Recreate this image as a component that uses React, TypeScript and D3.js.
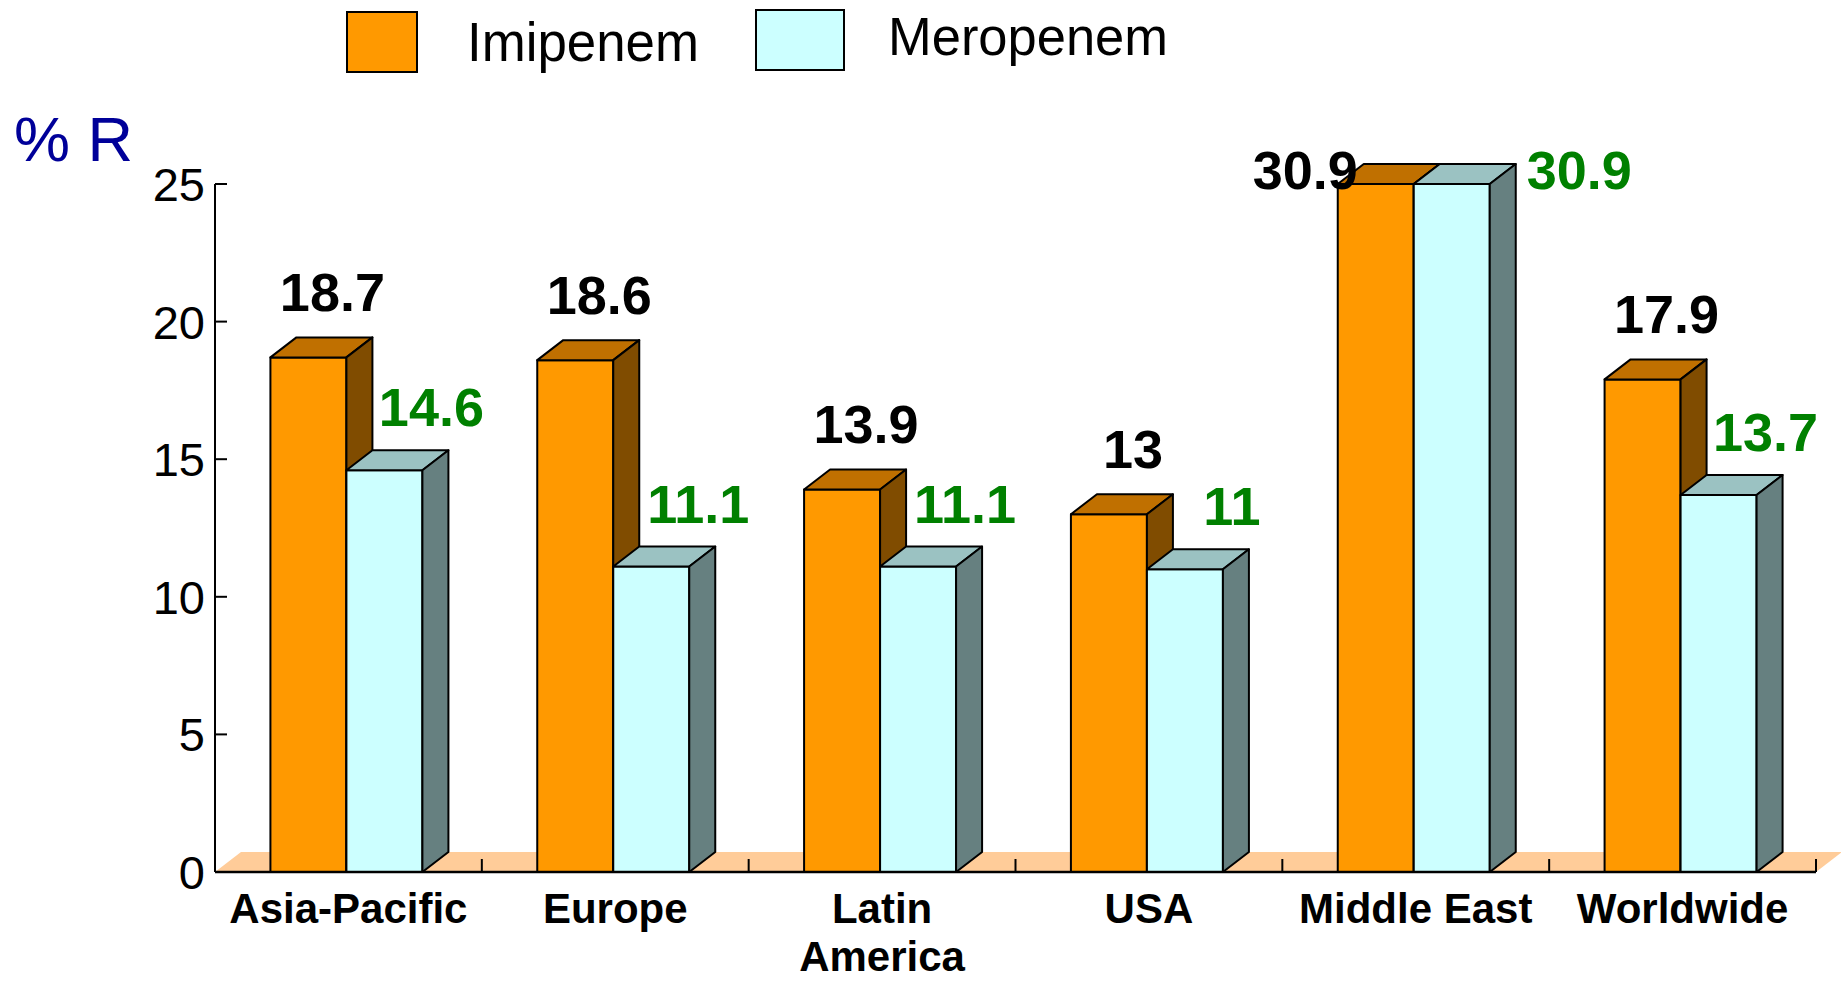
import React from 'react';
import * as d3 from 'd3';

// Carbapenem resistance (% R) by region
const regions = ['Asia-Pacific', 'Europe', 'Latin America', 'USA', 'Middle East', 'Worldwide'];
const imipenem = [18.7, 18.6, 13.9, 13.0, 30.9, 17.9];
const meropenem = [14.6, 11.1, 11.1, 11.0, 30.9, 13.7];
const seriesNames = ['Imipenem', 'Meropenem'];
const yTicks = [0, 5, 10, 15, 20, 25];
const yMax = 25;

const W = 1841;
const H = 982;
const FONT = '"Liberation Sans", Arial, Helvetica, sans-serif';

// oblique depth of the 3-D bars and floor
const DX = 26;
const DY = -20;
const BAR_W = 76;

const FRONT = ['#FF9900', '#CCFFFF'];
const TOP = ['#C07000', '#9BC2C2'];
const SIDE = ['#804C00', '#668080'];
const FLOOR = '#FFCC99';
const LABEL = ['#000000', '#008000'];

let measureCtx: CanvasRenderingContext2D | null = null;
function textWidth(s: string, font: string): number {
  if (!measureCtx) measureCtx = document.createElement('canvas').getContext('2d');
  if (!measureCtx) return s.length * 20;
  measureCtx.font = font;
  return measureCtx.measureText(s).width;
}

// wrap a category name into lines that fit the band
function wrap(s: string, maxW: number, font: string): string[] {
  if (textWidth(s, font) <= maxW) return [s];
  const words = s.split(' ');
  const lines: string[] = [];
  let cur = '';
  for (const w of words) {
    const t = cur ? cur + ' ' + w : w;
    if (cur && textWidth(t, font) > maxW) {
      lines.push(cur);
      cur = w;
    } else cur = t;
  }
  if (cur) lines.push(cur);
  return lines;
}

const fmt = (v: number) => String(+v.toFixed(1));

export default function App() {
  const x = d3.scaleBand<string>().domain(regions).range([215, 1816]).padding(0);
  const y = d3.scaleLinear().domain([0, yMax]).range([872, 184]).clamp(true);
  const y0 = y(0);
  const bw = x.bandwidth();
  const series = [imipenem, meropenem];
  const catFont = `bold 42px ${FONT}`;

  const floor = [
    [x.range()[0], y0],
    [x.range()[0] + DX, y0 + DY],
    [x.range()[1] + DX, y0 + DY],
    [x.range()[1], y0],
  ];
  const line = d3.line();

  return (
    <svg width={W} height={H} style={{ position: 'absolute', left: 0, top: 0, background: '#fff' }} fontFamily={FONT}>
      {/* legend */}
      <rect x={347} y={12} width={70} height={60} fill={FRONT[0]} stroke="#000" strokeWidth={2} />
      <text x={467} y={61} fontSize={55} textLength={232} lengthAdjust="spacingAndGlyphs">{seriesNames[0]}</text>
      <rect x={756} y={10} width={88} height={60} fill={FRONT[1]} stroke="#000" strokeWidth={2} />
      <text x={888} y={55} fontSize={54} textLength={280} lengthAdjust="spacingAndGlyphs">{seriesNames[1]}</text>

      {/* axis title */}
      <text x={14} y={161} fontSize={63} fill="#000099">% R</text>

      {/* floor */}
      <path d={line(floor as [number, number][]) + 'Z'} fill={FLOOR} />
      {regions.map((r, i) => {
        const bx = (x(r) as number) + bw;
        return <line key={'ft' + i} x1={bx} x2={bx} y1={y0} y2={y0 - 13} stroke="#000" strokeWidth={2} />;
      })}

      {/* y axis */}
      <line x1={215} x2={215} y1={y(yMax)} y2={y0} stroke="#000" strokeWidth={2} />
      {yTicks.map((t) => (
        <g key={'yt' + t}>
          <line x1={215} x2={227} y1={y(t)} y2={y(t)} stroke="#000" strokeWidth={2} />
          <text x={205} y={y(t) + 17} fontSize={47} textAnchor="end">{t}</text>
        </g>
      ))}

      {/* bars */}
      {regions.map((r, i) => {
        const gx = (x(r) as number) + (bw - 2 * BAR_W) / 2 - 2;
        return (
          <g key={'g' + i}>
            {series.map((vals, s) => {
              const bx = gx + s * BAR_W;
              const yt = y(vals[i]);
              const top = [[bx, yt], [bx + DX, yt + DY], [bx + BAR_W + DX, yt + DY], [bx + BAR_W, yt]];
              const side = [[bx + BAR_W, yt], [bx + BAR_W + DX, yt + DY], [bx + BAR_W + DX, y0 + DY], [bx + BAR_W, y0]];
              return (
                <g key={'b' + s} stroke="#000" strokeWidth={2} strokeLinejoin="round">
                  <rect x={bx} y={yt} width={BAR_W} height={y0 - yt} fill={FRONT[s]} />
                  <path d={line(top as [number, number][]) + 'Z'} fill={TOP[s]} />
                  <path d={line(side as [number, number][]) + 'Z'} fill={SIDE[s]} />
                </g>
              );
            })}
          </g>
        );
      })}

      {/* baseline */}
      <line x1={x.range()[0]} x2={x.range()[1]} y1={y0} y2={y0} stroke="#000" strokeWidth={2.5} />

      {/* value labels */}
      {regions.map((r, i) => {
        const gx = (x(r) as number) + (bw - 2 * BAR_W) / 2 - 2;
        return series.map((vals, s) => {
          const v = vals[i];
          const bx = gx + s * BAR_W;
          const yt = y(v);
          let tx: number;
          let ty: number;
          let anchor = 'middle';
          if (v > yMax) {
            // bar runs off the scale: put the values beside its top
            ty = yt + 5;
            if (s === 0) {
              tx = bx + 20;
              anchor = 'end';
            } else {
              tx = bx + BAR_W + DX + 11;
              anchor = 'start';
            }
          } else if (s === 0) {
            tx = bx + BAR_W / 2 + 24;
            ty = yt - 46;
          } else {
            tx = bx + BAR_W / 2 + 47;
            ty = yt - 44;
          }
          return (
            <text key={'v' + i + s} x={tx} y={ty} fontSize={54} fontWeight="bold" fill={LABEL[s]} textAnchor={anchor}>
              {fmt(v)}
            </text>
          );
        });
      })}

      {/* category labels */}
      {regions.map((r, i) => {
        const cx = (x(r) as number) + bw / 2;
        const lines = wrap(r, bw, catFont);
        return (
          <text key={'c' + i} x={cx} y={923} fontSize={42} fontWeight="bold" textAnchor="middle">
            {lines.map((l, k) => (
              <tspan key={k} x={cx} dy={k === 0 ? 0 : 48}>{l}</tspan>
            ))}
          </text>
        );
      })}
    </svg>
  );
}
